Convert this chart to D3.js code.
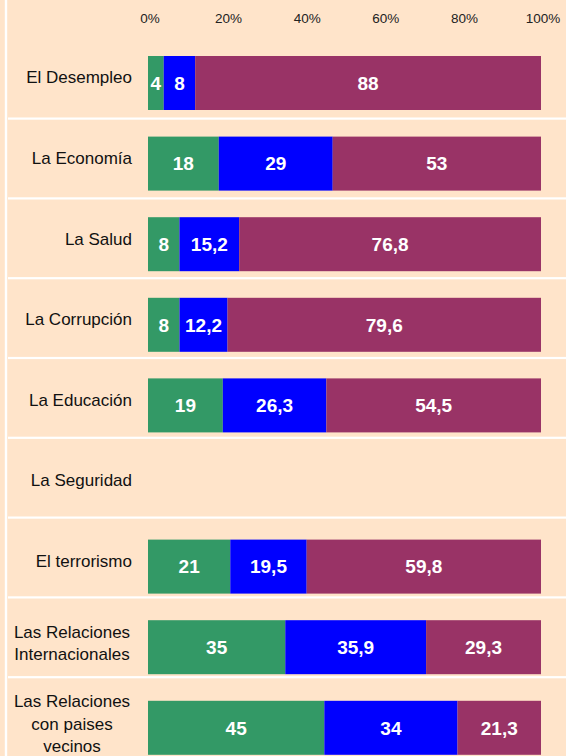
<!DOCTYPE html>
<html><head><meta charset="utf-8">
<script src="https://cdn.jsdelivr.net/npm/d3@7"></script>
<style>html,body{margin:0;padding:0;background:#FFE4CA;} svg{display:block}</style>
</head><body><svg id="c" width="566" height="756"></svg>
<script>
const categories = ["El Desempleo","La Economía","La Salud","La Corrupción","La Educación","La Seguridad","El terrorismo","Las Relaciones\nInternacionales","Las Relaciones\ncon paises\nvecinos"];
const serieVerde  = [4, 18, 8, 8, 19, 0, 21, 35, 45];
const serieAzul   = [8, 29, 15.2, 12.2, 26.3, 0, 19.5, 35.9, 34];
const serieMorada = [88, 53, 76.8, 79.6, 54.5, 0, 59.8, 29.3, 21.3];
const tickValues = [0, 0.2, 0.4, 0.6, 0.8, 1];
const seriesKeys = ["verde", "azul", "morada"];
const seriesColors = ["#339966", "#0000FF", "#993366"];

const W = 566, H = 756;
const svg = d3.select("#c");
const font = "'Liberation Sans', Arial, sans-serif";

svg.append("rect").attr("width", W).attr("height", H).attr("fill", "#FFE4CA");

const rows = categories.map((c, i) => ({cat: c, verde: serieVerde[i], azul: serieAzul[i], morada: serieMorada[i]}));

const x = d3.scaleLinear().domain([0, 1]).range([148, 541]);
const rowY = d3.scaleBand().domain(categories).range([38.7, 38.7 + 9 * 79.8]);
const barY = d3.scaleBand().domain(categories).range([38, 38 + 9 * 80.6]);
const barOffset = 18, barH = 54;

// left white vertical line
svg.append("rect").attr("x", 4.8).attr("y", 0).attr("width", 2.4).attr("height", H).attr("fill", "#fff");
// separators
svg.selectAll("rect.sep").data(categories.slice(0, -1)).join("rect")
  .attr("class", "sep")
  .attr("x", 8).attr("width", W - 8)
  .attr("y", d => rowY(d) + rowY.bandwidth() - 1)
  .attr("height", 2.2).attr("fill", "#fff");

const stack = d3.stack().keys(seriesKeys).offset(d3.stackOffsetExpand);
const stacked = stack(rows);

const loc = d3.formatLocale({decimal: ",", thousands: ".", grouping: [3], currency: ["", ""]});
const fmt = loc.format("~g");

const g = svg.selectAll("g.series").data(stacked).join("g")
  .attr("class", "series").attr("fill", (d, i) => seriesColors[i]);

g.selectAll("rect").data(d => d.filter(p => p.data[d.key] > 0)).join("rect")
  .attr("x", d => x(d[0]))
  .attr("width", d => x(d[1]) - x(d[0]))
  .attr("y", d => barY(d.data.cat) + barOffset)
  .attr("height", barH);

const labels = [];
stacked.forEach(s => s.forEach(p => { if (p.data[s.key] > 0) labels.push({p, v: p.data[s.key]}); }));
svg.append("g").selectAll("text").data(labels).join("text")
  .attr("x", d => (x(d.p[0]) + x(d.p[1])) / 2)
  .attr("y", d => barY(d.p.data.cat) + barOffset + barH / 2)
  .attr("dy", "0.36em")
  .attr("text-anchor", "middle")
  .attr("fill", "#fff")
  .attr("font-family", font).attr("font-weight", "bold").attr("font-size", 19)
  .text(d => fmt(d.v));

// axis
const axis = d3.axisTop(x).tickValues(tickValues).tickFormat(d3.format(".0%")).tickSize(0).tickPadding(0);
const ax = svg.append("g").attr("transform", "translate(1.5,23)").call(axis);
ax.select(".domain").remove();
ax.selectAll("text").attr("font-family", font).attr("font-size", 13.5).attr("fill", "#222");

// category labels
const catG = svg.append("g").attr("font-family", font).attr("font-size", 17).attr("fill", "#111");
categories.forEach(c => {
  const lines = c.split("\n");
  const cy = barY(c) + barOffset + barH / 2;
  const lh = 22.5;
  if (lines.length === 1) {
    catG.append("text").attr("x", 132).attr("y", cy - 5.5).attr("dy", "0.35em")
      .attr("text-anchor", "end").text(c);
  } else {
    const t = catG.append("text").attr("text-anchor", "middle");
    lines.forEach((l, k) => {
      t.append("tspan").attr("x", 72)
        .attr("y", cy - 4 + (k - (lines.length - 1) / 2) * lh)
        .attr("dy", "0.35em").text(l);
    });
  }
});
</script></body></html>
